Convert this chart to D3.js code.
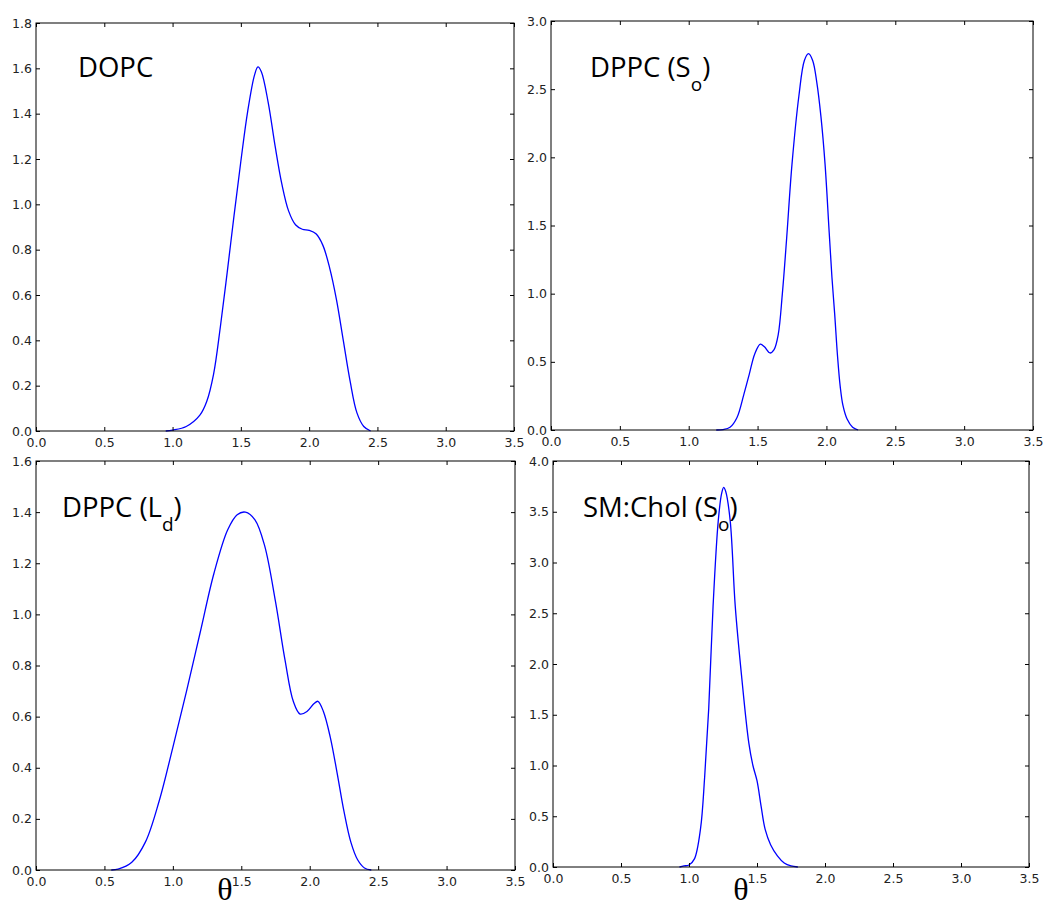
<!DOCTYPE html>
<html>
<head>
<meta charset="utf-8">
<script src="https://cdn.jsdelivr.net/npm/d3@7"></script>
<style>
  html, body { margin: 0; padding: 0; background: #fff; }
  svg { display: block; }
</style>
</head>
<body>
<svg id="chart" width="1044" height="908"></svg>
<script>
// ---------- data ----------
const xTicks = [0.0, 0.5, 1.0, 1.5, 2.0, 2.5, 3.0, 3.5];

const dopcX = [0.95, 1.0, 1.1, 1.2, 1.25, 1.3, 1.35, 1.4, 1.45, 1.5, 1.55, 1.6, 1.625, 1.65, 1.7, 1.75, 1.8, 1.85, 1.9, 1.95, 2.0, 2.05, 2.1, 2.15, 2.2, 2.25, 2.3, 2.35, 2.4, 2.45];
const dopcY = [0.0, 0.004, 0.02, 0.07, 0.13, 0.25, 0.46, 0.70, 0.95, 1.19, 1.41, 1.57, 1.606, 1.585, 1.45, 1.26, 1.09, 0.97, 0.91, 0.89, 0.885, 0.87, 0.82, 0.72, 0.58, 0.40, 0.22, 0.08, 0.02, 0.0];
const dopcYTicks = [0.0, 0.2, 0.4, 0.6, 0.8, 1.0, 1.2, 1.4, 1.6, 1.8];

const soX = [1.2, 1.25, 1.3, 1.35, 1.4, 1.44, 1.48, 1.52, 1.55, 1.59, 1.62, 1.65, 1.68, 1.71, 1.75, 1.8, 1.84, 1.87, 1.9, 1.93, 1.96, 1.99, 2.02, 2.04, 2.06, 2.08, 2.1, 2.12, 2.15, 2.19, 2.23];
const soY = [0.0, 0.003, 0.02, 0.09, 0.26, 0.41, 0.56, 0.63, 0.61, 0.565, 0.59, 0.70, 1.0, 1.39, 1.95, 2.45, 2.71, 2.76, 2.71, 2.55, 2.3, 1.95, 1.45, 1.12, 0.85, 0.55, 0.32, 0.18, 0.08, 0.02, 0.0];
const soYTicks = [0.0, 0.5, 1.0, 1.5, 2.0, 2.5, 3.0];

const ldX = [0.55, 0.6, 0.7, 0.8, 0.9, 1.0, 1.1, 1.2, 1.3, 1.4, 1.47, 1.53, 1.6, 1.67, 1.75, 1.82, 1.88, 1.93, 1.98, 2.03, 2.06, 2.1, 2.15, 2.2, 2.25, 2.3, 2.35, 2.4, 2.45];
const ldY = [0.0, 0.003, 0.03, 0.11, 0.27, 0.48, 0.70, 0.93, 1.16, 1.33, 1.39, 1.40, 1.37, 1.27, 1.05, 0.82, 0.66, 0.61, 0.62, 0.65, 0.66, 0.62, 0.52, 0.38, 0.23, 0.11, 0.04, 0.008, 0.0];
const ldYTicks = [0.0, 0.2, 0.4, 0.6, 0.8, 1.0, 1.2, 1.4, 1.6];

const smX = [0.93, 0.963, 1.0, 1.04, 1.085, 1.115, 1.145, 1.177, 1.215, 1.24, 1.255, 1.27, 1.303, 1.34, 1.386, 1.44, 1.47, 1.5, 1.53, 1.56, 1.6, 1.65, 1.7, 1.75, 1.8];
const smY = [0.0, 0.01, 0.02, 0.08, 0.38, 0.885, 1.56, 2.57, 3.41, 3.68, 3.74, 3.70, 3.41, 2.57, 1.89, 1.22, 1.0, 0.85, 0.6, 0.37, 0.22, 0.11, 0.04, 0.01, 0.0];
const smYTicks = [0.0, 0.5, 1.0, 1.5, 2.0, 2.5, 3.0, 3.5, 4.0];

const panelNames = ["DOPC", "DPPC (S", "DPPC (L", "SM:Chol (S"];
const panelSubs = ["", "o", "d", "o"];
const panelTails = ["", ")", ")", ")"];
const xLabel = "θ";

// ---------- layout ----------
const panels = [
  { x: dopcX, y: dopcY, yTicks: dopcYTicks, yMax: 1.8, box: [36, 514, 23, 431], title: [78, 77], xlab: false },
  { x: soX, y: soY, yTicks: soYTicks, yMax: 3.0, box: [551, 1033, 21, 430], title: [590, 77], xlab: false },
  { x: ldX, y: ldY, yTicks: ldYTicks, yMax: 1.6, box: [36, 515, 461, 870], title: [62, 517], xlab: [225, 900] },
  { x: smX, y: smY, yTicks: smYTicks, yMax: 4.0, box: [553, 1029, 461, 867], title: [583, 517], xlab: [741, 900] }
];

const svg = d3.select("#chart");
svg.append("rect").attr("width", 1044).attr("height", 908).attr("fill", "#fff");

const tickFont = "DejaVu Sans, sans-serif";
const tickLen = 4;

panels.forEach((p, i) => {
  const [x0, x1, y0, y1] = p.box;
  const xs = d3.scaleLinear().domain([0, 3.5]).range([x0, x1]);
  const ys = d3.scaleLinear().domain([0, p.yMax]).range([y1, y0]);
  const g = svg.append("g");

  // curve
  const pts = p.x.map((v, k) => [v, p.y[k]]);
  g.append("path")
    .datum(pts)
    .attr("fill", "none")
    .attr("stroke", "#0000ff")
    .attr("stroke-width", 1.3)
    .attr("d", d3.line().x(d => xs(d[0])).y(d => Math.min(ys(d[1]), y1)).curve(d3.curveCatmullRom.alpha(0.5)));

  // axes (ticks inward on all sides)
  const fmt = d3.format(".1f");
  const bottom = g.append("g").attr("transform", `translate(0,${y1})`)
    .call(d3.axisBottom(xs).tickValues(xTicks).tickFormat(fmt).tickSizeInner(-tickLen).tickSizeOuter(0).tickPadding(7));
  const top = g.append("g").attr("transform", `translate(0,${y0})`)
    .call(d3.axisTop(xs).tickValues(xTicks).tickFormat("").tickSizeInner(-tickLen).tickSizeOuter(0));
  const left = g.append("g").attr("transform", `translate(${x0},0)`)
    .call(d3.axisLeft(ys).tickValues(p.yTicks).tickFormat(fmt).tickSizeInner(-tickLen).tickSizeOuter(0).tickPadding(4));
  const right = g.append("g").attr("transform", `translate(${x1},0)`)
    .call(d3.axisRight(ys).tickValues(p.yTicks).tickFormat("").tickSizeInner(-tickLen).tickSizeOuter(0));

  [bottom, top, left, right].forEach(a => {
    a.select(".domain").remove();
    a.selectAll(".tick line").attr("stroke", "#000").attr("stroke-width", 1);
    a.selectAll(".tick text").attr("fill", "#222").style("font-family", tickFont).style("font-size", "12.5px");
  });

  // frame
  g.append("rect")
    .attr("x", x0).attr("y", y0)
    .attr("width", x1 - x0).attr("height", y1 - y0)
    .attr("fill", "none").attr("stroke", "#000").attr("stroke-width", 1);

  // title
  const t = g.append("text")
    .attr("x", p.title[0]).attr("y", p.title[1])
    .style("font-family", "'Open Sans', sans-serif")
    .style("font-size", "27.5px")
    .attr("fill", "#000");
  t.append("tspan").text(panelNames[i]);
  if (panelSubs[i]) {
    t.append("tspan").attr("dy", 14).style("font-size", "19px").text(panelSubs[i]);
    t.append("tspan").attr("dy", -14).text(panelTails[i]);
  }

  // x label
  if (p.xlab) {
    g.append("text")
      .attr("x", p.xlab[0]).attr("y", p.xlab[1])
      .attr("text-anchor", "middle")
      .style("font-family", "'Liberation Serif', 'DejaVu Serif', serif")
      .style("font-size", "32px")
      .attr("fill", "#000")
      .text(xLabel);
  }
});
</script>
</body>
</html>
